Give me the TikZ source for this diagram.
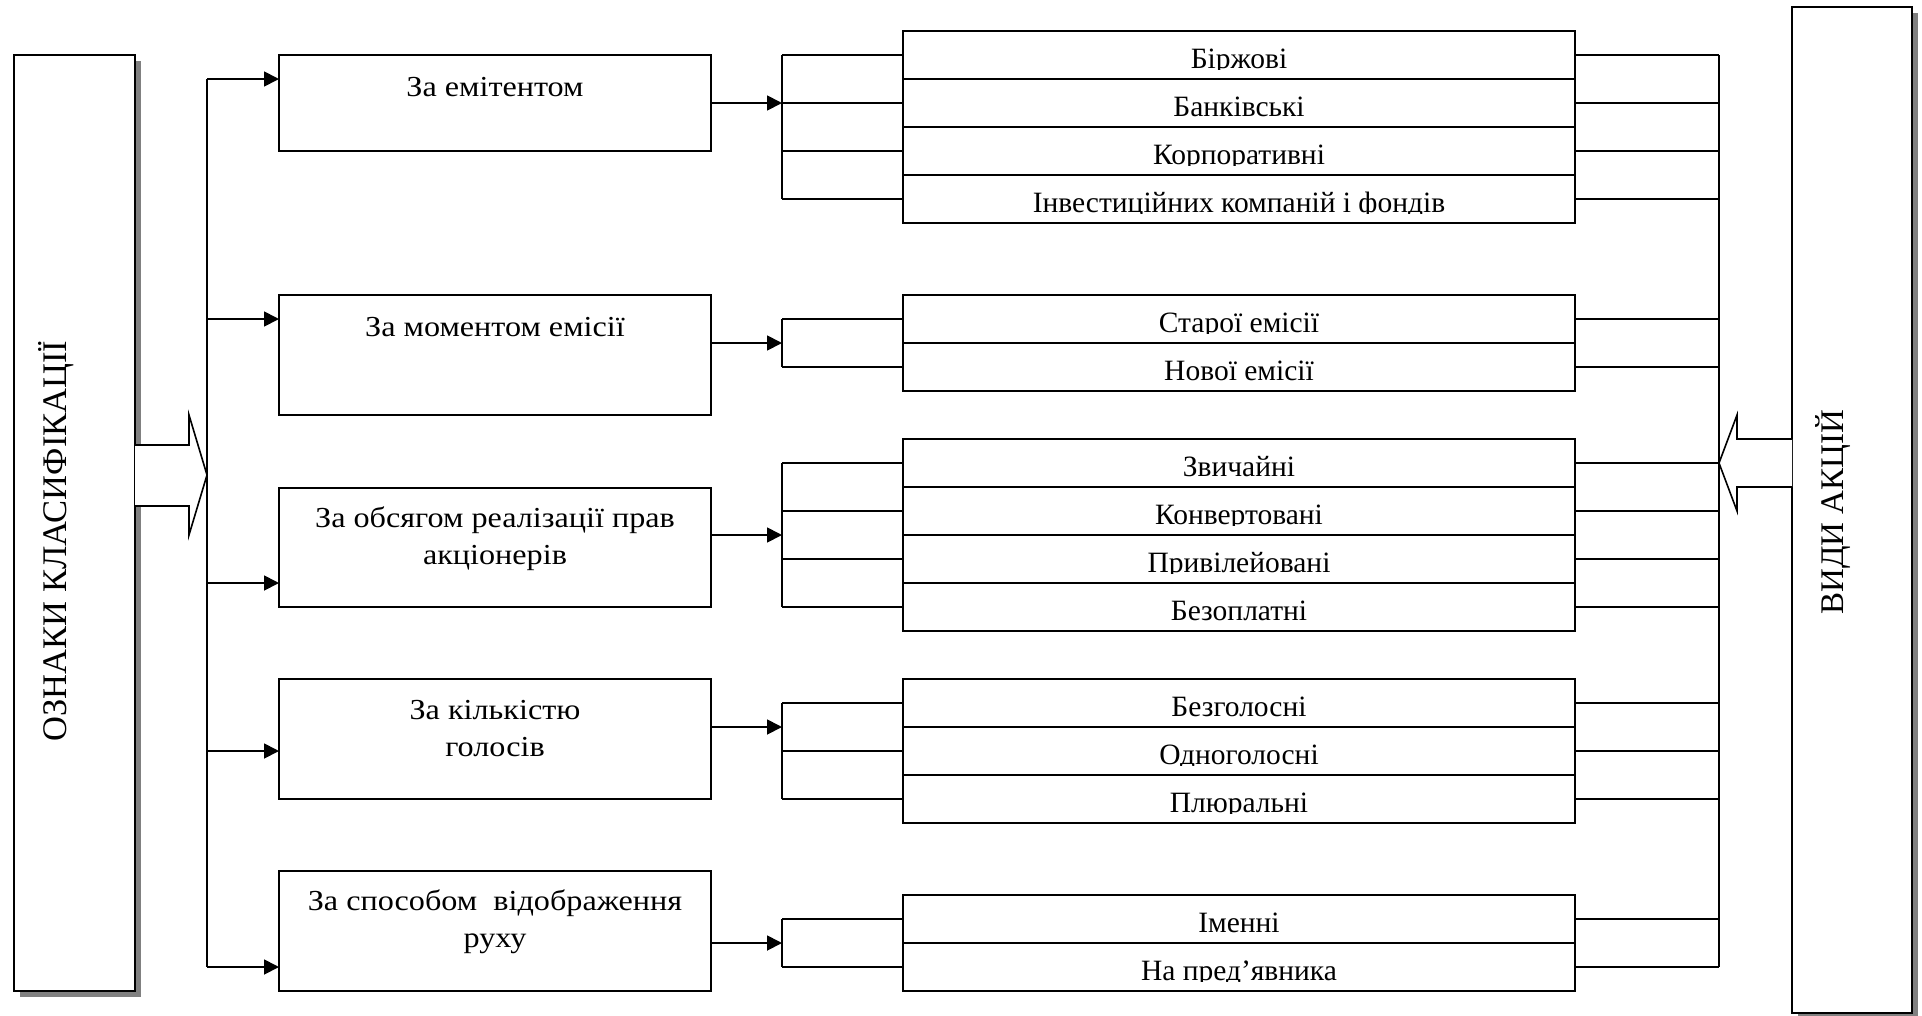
\documentclass[tikz,border=0pt]{standalone}
\usepackage{fontspec}
\setmainfont{Liberation Serif}
\newfontfamily\wideserif{Liberation Serif}[FakeStretch=1.11]
\usetikzlibrary{arrows.meta}
\begin{document}
\begin{tikzpicture}[x=1pt,y=-1pt,
  ln/.style={line width=1.8pt},
  box/.style={draw, line width=1.8pt, fill=white, rectangle, inner sep=0pt, outer sep=0pt},
  cell/.style={box, minimum width=672pt, minimum height=48pt},
  crit/.style={box, minimum width=432pt},
  shad/.style={fill=black!50, draw=none},
  arr/.style={ln, -{Triangle[length=15pt,width=15pt]}},
  ctxt/.style={font=\wideserif\fontsize{29}{36}\selectfont, inner sep=0pt, anchor=base},
  itxt/.style={font=\fontsize{29.5}{36}\selectfont, inner sep=0pt, anchor=base},
  bigtxt/.style={font=\fontsize{33}{40}\selectfont, inner sep=0pt, anchor=base, rotate=90},
  fat/.style={draw, line width=1.6pt, fill=white, line join=miter},
]
\useasboundingbox (0,0) rectangle (1922,1015);
% shadows
\fill[shad] (20,61) rectangle (141,997);
\fill[shad] (1798,13) rectangle (1918,1019);
% side boxes
\node[box, minimum width=121pt, minimum height=936pt] (lbox) at (74.5,523) {};
\node[box, minimum width=120pt, minimum height=1006pt] (rbox) at (1852,510) {};
% criteria boxes
\node[crit, minimum height=96pt] (b1) at (495,103) {};
\node[crit, minimum height=120pt] (b2) at (495,355) {};
\node[crit, minimum height=119pt] (b3) at (495,547.5) {};
\node[crit, minimum height=120pt] (b4) at (495,739) {};
\node[crit, minimum height=120pt] (b5) at (495,931) {};
% item cells
\foreach \n/\y in {11/55,12/103,13/151,14/199,21/319,22/367,31/463,32/511,33/559,34/607,41/703,42/751,43/799,51/919,52/967}
  \node[cell] (i\n) at (1239,\y) {};
% bracket columns
\coordinate (LB) at (207,0);
\coordinate (MB) at (782,0);
\coordinate (RB) at (1719,0);
% left bracket
\draw[ln] (LB |- i11.south) -- (LB |- i52);
\draw[arr] (LB |- i11.south) -- (b1.west |- i11.south);
\draw[arr] (LB |- i21) -- (b2.west |- i21);
\draw[arr] (LB |- i33.south) -- (b3.west |- i33.south);
\draw[arr] (LB |- i42) -- (b4.west |- i42);
\draw[arr] (LB |- i52) -- (b5.west |- i52);
% middle brackets
\draw[ln] (MB |- i11) -- (MB |- i14);
\draw[ln] (MB |- i21) -- (MB |- i22);
\draw[ln] (MB |- i31) -- (MB |- i34);
\draw[ln] (MB |- i41) -- (MB |- i43);
\draw[ln] (MB |- i51) -- (MB |- i52);
\foreach \n in {11,12,13,14,21,22,31,32,33,34,41,42,43,51,52} {
  \draw[ln] (i\n.west) -- (i\n.west -| MB);
  \draw[ln] (i\n.east) -- (i\n.east -| RB);
}
\draw[arr] (b1.east) -- (b1.east -| MB);
\draw[arr] (b2.east |- i21.south) -- (MB |- i21.south);
\draw[arr] (b3.east |- i32.south) -- (MB |- i32.south);
\draw[arr] (b4.east |- i41.south) -- (MB |- i41.south);
\draw[arr] (b5.east |- i51.south) -- (MB |- i51.south);
% right bracket
\draw[ln] (RB |- i11) -- (RB |- i52);
% big hollow arrows
\fill[white] (136,445) -- (189,445) -- (189,415) -- (207,475) -- (189,535) -- (189,506) -- (136,506) -- cycle;
\draw[fat] (135,445) -- (189,445) -- (189,415) -- (207,475) -- (189,535) -- (189,506) -- (135,506);
\fill[white] (1791,439) -- (1737,439) -- (1737,415) -- (1719,463) -- (1737,511) -- (1737,487) -- (1791,487) -- cycle;
\draw[fat] (1792,439) -- (1737,439) -- (1737,415) -- (1719,463) -- (1737,511) -- (1737,487) -- (1792,487);
% side texts
\node[bigtxt, font=\fontsize{34.5}{40}\selectfont] (lt) at (66,541) {ОЗНАКИ КЛАСИФІКАЦІЇ};
\node[bigtxt] (rt) at (1843,512) {ВИДИ АКЦІЙ};
% criteria texts
\node[ctxt] (t1) at (495,96) {За емітентом};
\node[ctxt] (t2) at (495,336) {За моментом емісії};
\node[ctxt] (t3a) at (495,527) {За обсягом реалізації прав};
\node[ctxt] (t3b) at (495,564) {акціонерів};
\node[ctxt] (t4a) at (495,719) {За кількістю};
\node[ctxt] (t4b) at (495,756) {голосів};
\node[ctxt] (t5a) at (495,910) {За способом\ \ відображення};
\node[ctxt] (t5b) at (495,947) {руху};
% item texts (clipped near the baseline, as in the original)
\foreach \n/\txt in {11/Біржові,12/Банківські,13/Корпоративні,14/Інвестиційних компаній і фондів,21/Старої емісії,22/Нової емісії,31/Звичайні,32/Конвертовані,33/Привілейовані,34/Безоплатні,41/Безголосні,42/Одноголосні,43/Плюральні,51/Іменні,52/На пред’явника} {
  \begin{scope}
    \clip ([yshift=23pt]i\n.west) rectangle ([yshift=-14pt]i\n.east);
    \node[itxt] (x\n) at ([yshift=-13.5pt]i\n.center) {\txt};
  \end{scope}
}
\end{tikzpicture}
\end{document}
